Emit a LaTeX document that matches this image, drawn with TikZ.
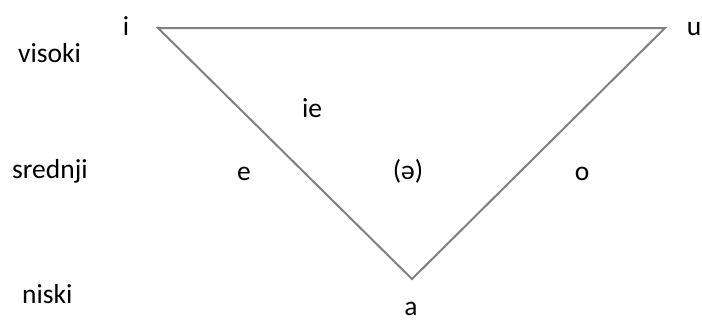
\documentclass[tikz,border=0pt]{standalone}
\usepackage{fontspec}
\setmainfont{Carlito}
\begin{document}
\begin{tikzpicture}[x=1pt,y=-1pt,
  lbl/.style={font=\fontsize{27.5}{32}\selectfont, inner sep=0pt, anchor=base},
  rowlbl/.style={lbl, anchor=base west},
  edge/.style={draw=black!50, line width=2pt, line join=miter}]
\useasboundingbox (0,0) rectangle (702,322);
\coordinate (vi) at (158,28);
\coordinate (vu) at (665,28);
\coordinate (va) at (412,279);
\draw[edge] (vi) -- (vu) -- (va) -- cycle;
\node[rowlbl] (visoki) at (18,62) {visoki};
\node[rowlbl] (srednji) at (12,178) {srednji};
\node[rowlbl] (niski) at (22,303) {niski};
\node[lbl] (i) at (126,35) {i};
\node[lbl] (u) at (694,35) {u};
\node[lbl] (ie) at (312,117) {ie};
\node[lbl] (e) at (244,180) {e};
\node[lbl] (schwa) at (408,179) {(ə)};
\node[lbl] (o) at (582,180) {o};
\node[lbl] (a) at (411,315) {a};
\end{tikzpicture}
\end{document}
